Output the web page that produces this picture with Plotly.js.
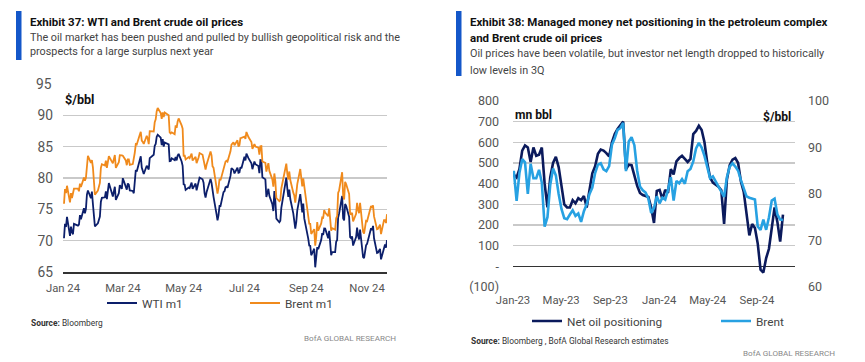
<!DOCTYPE html>
<html><head><meta charset="utf-8">
<script src="https://cdn.plot.ly/plotly-3.0.1.min.js"></script>
<style>html,body{margin:0;padding:0;background:#fff;overflow:hidden}#chart{width:865px;height:362px}</style>
</head><body><div id="chart"></div>
<script>
// ---------- Exhibit 37: daily front-month prices, 2024 ----------
const dayLabels = [
'01-02','01-03','01-04','01-05','01-08','01-09','01-10','01-11','01-12','01-16','01-17','01-18','01-19','01-22','01-23','01-24','01-25','01-26','01-29','01-30','01-31',
'02-01','02-02','02-05','02-06','02-07','02-08','02-09','02-12','02-13','02-14','02-15','02-16','02-20','02-21','02-22','02-23','02-26','02-27','02-28','02-29',
'03-01','03-04','03-05','03-06','03-07','03-08','03-11','03-12','03-13','03-14','03-15','03-18','03-19','03-20','03-21','03-22','03-25','03-26','03-27','03-28',
'04-01','04-02','04-03','04-04','04-05','04-08','04-09','04-10','04-11','04-12','04-15','04-16','04-17','04-18','04-19','04-22','04-23','04-24','04-25','04-26','04-29','04-30',
'05-01','05-02','05-03','05-06','05-07','05-08','05-09','05-10','05-13','05-14','05-15','05-16','05-17','05-20','05-21','05-22','05-23','05-24','05-28','05-29','05-30','05-31',
'06-03','06-04','06-05','06-06','06-07','06-10','06-11','06-12','06-13','06-14','06-17','06-18','06-20','06-21','06-24','06-25','06-26','06-27','06-28',
'07-01','07-02','07-03','07-05','07-08','07-09','07-10','07-11','07-12','07-15','07-16','07-17','07-18','07-19','07-22','07-23','07-24','07-25','07-26','07-29','07-30','07-31',
'08-01','08-02','08-05','08-06','08-07','08-08','08-09','08-12','08-13','08-14','08-15','08-16','08-19','08-20','08-21','08-22','08-23','08-26','08-27','08-28','08-29','08-30',
'09-03','09-04','09-05','09-06','09-09','09-10','09-11','09-12','09-13','09-16','09-17','09-18','09-19','09-20','09-23','09-24','09-25','09-26','09-27','09-30',
'10-01','10-02','10-03','10-04','10-07','10-08','10-09','10-10','10-11','10-14','10-15','10-16','10-17','10-18','10-21','10-22','10-23','10-24','10-25','10-28','10-29','10-30','10-31',
'11-01','11-04','11-05','11-06','11-07','11-08','11-11','11-12','11-13','11-14','11-15','11-18','11-19','11-20','11-21'];
const wtiM1 = [
70.38,72.70,72.19,73.81,70.77,72.24,71.37,71.02,72.68,72.40,72.56,74.08,73.41,75.19,74.37,75.09,77.36,78.01,76.78,77.82,75.85,
73.82,72.28,72.78,73.31,73.86,76.22,76.84,76.92,77.87,76.64,78.03,79.19,77.04,77.91,78.61,76.49,77.58,78.87,78.54,78.26,
79.97,78.74,78.15,79.13,78.93,78.01,77.93,77.56,79.72,81.26,81.04,82.72,83.47,81.68,81.07,80.63,81.95,81.62,81.35,83.17,
83.71,85.15,85.43,86.59,86.91,86.43,85.23,86.21,85.02,85.66,85.41,85.36,82.69,82.73,83.14,82.85,83.36,82.81,83.57,83.85,82.63,81.93,
79.00,78.95,78.11,78.48,78.38,78.99,79.26,78.26,79.12,78.02,78.63,79.23,80.06,79.80,79.26,77.57,76.87,77.72,79.83,79.23,77.91,76.99,
74.22,73.25,74.07,75.55,75.53,77.74,77.90,78.50,78.62,78.45,80.33,81.57,81.29,80.73,81.63,80.83,80.90,81.74,81.54,
83.38,82.81,83.88,83.16,82.33,81.41,82.10,82.62,82.21,81.91,80.76,82.85,82.82,80.13,79.78,76.96,77.59,78.28,77.16,75.81,74.73,77.91,
76.31,73.52,72.94,73.20,75.23,76.19,76.84,80.06,78.35,76.98,78.16,76.65,74.37,73.17,71.93,73.01,74.83,77.42,75.53,74.52,75.91,73.55,
70.34,69.20,69.15,67.67,68.71,65.75,67.31,68.97,68.65,70.09,71.19,70.91,71.95,71.92,70.37,71.56,69.69,67.67,68.18,68.17,
69.83,70.10,73.71,74.38,77.14,73.57,73.24,75.85,75.56,73.83,70.58,70.39,70.67,69.22,70.56,72.09,70.77,70.19,71.78,67.38,67.21,68.61,69.26,
69.49,71.47,71.99,71.69,72.36,70.38,68.04,68.12,68.43,68.70,67.02,69.16,69.39,68.87,70.10];
const brentM1 = [
75.89,78.25,77.59,78.76,76.12,77.59,76.80,77.41,78.29,78.29,77.88,79.10,78.56,80.06,79.55,80.04,82.43,83.55,82.40,82.87,81.71,
78.70,77.33,78.00,78.59,79.21,81.63,82.19,82.00,82.77,81.60,82.86,83.47,82.34,83.03,83.67,81.62,82.53,83.65,83.68,83.62,
83.55,82.80,82.04,82.96,82.96,82.08,82.21,82.92,84.03,85.42,85.34,86.89,87.38,85.95,85.78,85.43,86.75,86.25,85.41,87.48,
87.42,88.92,89.35,90.65,91.17,90.38,89.42,90.48,89.74,90.45,90.10,90.02,87.29,87.11,87.29,87.00,88.42,88.02,89.01,89.50,88.40,87.86,
83.44,83.67,82.96,83.33,83.16,83.58,83.88,82.79,83.36,82.38,82.75,83.27,83.98,83.71,82.88,81.90,81.36,82.12,84.22,83.60,81.86,81.62,
78.36,77.52,78.41,79.87,79.62,81.63,81.92,82.60,82.75,82.62,84.25,85.33,85.71,85.24,86.01,85.01,85.25,86.39,86.41,
86.60,86.24,87.34,86.54,85.75,84.66,85.08,85.40,85.03,84.85,83.73,85.08,85.11,82.63,82.40,81.01,81.71,82.37,81.13,79.78,78.63,80.72,
79.52,76.81,76.30,76.48,78.33,79.16,79.66,82.30,80.69,79.76,81.04,79.68,77.66,77.20,76.05,77.22,79.02,81.43,79.55,78.65,79.94,78.80,
73.75,72.70,72.69,71.06,71.84,69.19,70.61,72.97,71.61,72.75,73.70,73.65,74.88,74.49,73.90,75.17,73.46,71.60,71.98,71.77,
73.56,73.90,77.62,78.05,80.93,77.18,76.58,79.40,79.04,77.46,74.25,74.22,74.45,73.06,74.29,76.04,74.96,74.38,76.05,71.42,71.12,72.55,73.16,
73.10,75.08,75.53,75.23,75.63,73.87,71.83,71.89,72.28,72.56,71.04,73.30,73.31,72.81,74.23];
const leftTickVals = ['2024-01-01','2024-03-01','2024-05-01','2024-07-01','2024-09-01','2024-11-01'];
const leftTickText = ['Jan 24','Mar 24','May 24','Jul 24','Sep 24','Nov 24'];
const priceTicks = [65, 70, 75, 80, 85, 90];
const priceTop = 95;

// ---------- Exhibit 38: weekly (Tuesday) data from 2023-01-03 ----------
const weeklyStart = '2023-01-03';
const netPositioning = [
444,430,470,560,585,575,505,575,535,540,
575,400,285,430,500,530,480,390,300,285,
285,320,305,330,320,340,285,370,450,484,
545,565,560,548,532,600,640,665,680,700,
470,492,490,440,390,355,345,340,335,285,
210,365,370,325,370,355,470,445,508,524,
535,520,505,520,640,655,680,660,600,500,
430,405,393,385,368,205,420,490,516,524,
500,410,360,260,150,205,185,110,-16,-30,
40,85,177,285,215,120,250];
const brentWeekly = [
85.0,78.5,84.5,87.5,86.8,80.0,86.5,83.4,83.4,85.2,
82.4,73.0,75.0,82.0,85.5,84.0,80.0,76.8,74.8,74.6,
75.6,76.5,75.3,75.8,74.0,76.3,77.8,80.0,81.4,84.5,
86.3,86.6,85.3,84.9,86.0,90.6,92.0,93.8,94.2,95.3,
84.9,91.3,92.2,90.5,85.0,81.6,80.8,80.3,79.0,75.9,
77.0,79.5,78.0,79.2,78.8,80.9,83.6,78.6,82.8,82.3,
83.2,82.2,84.9,85.4,87.0,89.8,91.0,90.0,88.2,85.5,
83.4,83.8,82.6,81.4,80.5,79.4,83.6,85.9,86.6,85.9,
85.0,83.0,81.3,79.5,79.2,79.0,78.8,73.0,72.3,74.5,
72.3,75.0,78.6,79.0,75.6,74.5,74.4];
const leftAxisVals = [-100,0,100,200,300,400,500,600,700,800];
const leftAxisText = ['(100)','-','100','200','300','400','500','600','700','800'];
const rightAxisVals = [60,70,80,90,100];

// ---------- helpers ----------
const FAM = 'Roboto';
const F = 'Roboto, "Liberation Sans", sans-serif';
const cv = document.createElement('canvas').getContext('2d');
function tw(text, weight, size) { cv.font = (weight || 'normal') + ' ' + size + 'px ' + FAM; return cv.measureText(text).width; }
function fit(segs, target) {
  let w = 0; segs.forEach(s => { w += tw(s[0], s[1], 100); });
  return Math.round(1000 * target / w) / 10;
}

const d37 = dayLabels.map(s => '2024-' + s);
const weekDates = netPositioning.map((_, i) => {
  const d = new Date(weeklyStart + 'T00:00:00Z'); d.setUTCDate(d.getUTCDate() + 7 * i);
  return d.toISOString().slice(0, 10);
});

const W = 865, H = 362;
const px = x => x / W, py = y => 1 - y / H;
const NAVY = '#0c1f6b', ORANGE = '#f08a1c', NAVY2 = '#0b1a5c', LBLUE = '#27a1e2';
const GRID = '#c9c9c9', TXT = '#555555';

const sTitle = Math.min(fit([['Exhibit 37: WTI and Brent crude oil prices', 'bold']], 214),
                        fit([['Exhibit 38: Managed money net positioning in the petroleum complex', 'bold']], 362));
const sSub = Math.min(fit([['The oil market has been pushed and pulled by bullish geopolitical risk and the', 'normal']], 371),
                      fit([['Oil prices have been volatile, but investor net length dropped to historically', 'normal']], 358));
const sSrc = fit([['Source:', 'bold'], [' Bloomberg , BofA Global Research estimates', 'normal']], 197);
const sBofA = fit([['BofA GLOBAL RESEARCH', 'normal']], 92);
const sUnit = fit([['mn bbl', 'bold']], 37);
const sLeg = fit([['Net oil positioning', 'normal']], 95);
const sXt = fit([['May-23', 'normal']], 37);
const sYt = fit([['800', 'normal']], 21);
const sYl = fit([['90', 'normal']], 15.5);

const traces = [
  {x: d37, y: wtiM1, name: 'WTI m1', type: 'scatter', mode: 'lines', xaxis: 'x', yaxis: 'y',
   line: {color: NAVY, width: 1.8}, legend: 'legend'},
  {x: d37, y: brentM1, name: 'Brent m1', type: 'scatter', mode: 'lines', xaxis: 'x', yaxis: 'y',
   line: {color: ORANGE, width: 1.8}, legend: 'legend2'},
  {x: weekDates, y: netPositioning, name: 'Net oil positioning', type: 'scatter', mode: 'lines', xaxis: 'x2', yaxis: 'y2',
   line: {color: NAVY2, width: 2.6}, legend: 'legend3'},
  {x: weekDates, y: brentWeekly, name: 'Brent', type: 'scatter', mode: 'lines', xaxis: 'x2', yaxis: 'y3',
   line: {color: LBLUE, width: 2.6}, legend: 'legend4'}
];

function ann(text, x, y, size, opts) {
  return Object.assign({text, x: px(x), y: py(y), xref: 'paper', yref: 'paper', showarrow: false,
    xanchor: 'left', yanchor: 'middle', font: {family: F, size: size, color: '#333'}}, opts || {});
}
function leg(x, y) {
  return {orientation: 'h', x: px(x), y: py(y), xanchor: 'left', yanchor: 'middle', itemwidth: 30,
    font: {size: sLeg, color: '#444', family: F}, bgcolor: 'rgba(0,0,0,0)', borderwidth: 0};
}

const layout = {
  width: W, height: H, margin: {l: 0, r: 0, t: 0, b: 0, autoexpand: false},
  paper_bgcolor: '#fff', plot_bgcolor: '#fff', font: {family: F, color: TXT},
  xaxis: {domain: [px(63), px(387)], anchor: 'y', type: 'date', range: ['2024-01-01', '2024-11-21'],
    tickmode: 'array', tickvals: leftTickVals, ticktext: leftTickText, showgrid: false,
    showline: true, linecolor: '#333', linewidth: 1.6, ticks: '', tickfont: {size: sXt, color: TXT}, ticklabelstandoff: 5},
  yaxis: {domain: [py(272), py(84)], anchor: 'x', range: [65, priceTop], tickmode: 'array',
    tickvals: priceTicks, showgrid: true, gridcolor: GRID, gridwidth: 1.3, zeroline: false,
    ticks: '', tickfont: {size: sYl, color: TXT}, ticklabelstandoff: 9},
  xaxis2: {domain: [px(513), px(795)], anchor: 'y2', type: 'date', range: ['2023-01-01', '2024-12-05'],
    tick0: '2023-01-01', dtick: 'M4', tickformat: '%b-%y', showgrid: false, showline: false, ticks: '',
    tickfont: {size: sXt, color: TXT}, ticklabelstandoff: 5, tickangle: 0},
  yaxis2: {domain: [py(287), py(101)], anchor: 'x2', range: [-100, 800], tickmode: 'array',
    tickvals: leftAxisVals, ticktext: leftAxisText, showgrid: true, gridcolor: GRID, gridwidth: 1.3,
    zeroline: true, zerolinecolor: '#333', zerolinewidth: 1.6, ticks: '', tickfont: {size: sYt, color: TXT}, ticklabelstandoff: 13},
  yaxis3: {domain: [py(287), py(101)], anchor: 'x2', overlaying: 'y2', side: 'right', range: [60, 100],
    tickmode: 'array', tickvals: rightAxisVals, showgrid: false, zeroline: false, ticks: '',
    tickfont: {size: sYt, color: TXT}, ticklabelstandoff: 12},
  showlegend: true,
  legend: leg(102, 303), legend2: leg(245, 303), legend3: leg(527, 321), legend4: leg(716, 321),
  shapes: [
    {type: 'rect', xref: 'paper', yref: 'paper', x0: px(16), x1: px(21.5), y0: py(60), y1: py(11), fillcolor: '#1457c9', line: {width: 0}},
    {type: 'rect', xref: 'paper', yref: 'paper', x0: px(456), x1: px(461.5), y0: py(76), y1: py(11), fillcolor: '#1457c9', line: {width: 0}}
  ],
  annotations: [
    ann('<b>Exhibit 37: WTI and Brent crude oil prices</b>', 28, 22, sTitle, {font: {family: F, size: sTitle, color: '#111'}}),
    ann('The oil market has been pushed and pulled by bullish geopolitical risk and the', 28, 37, sSub, {font: {family: F, size: sSub, color: '#444'}}),
    ann('prospects for a large surplus next year', 28, 52, sSub, {font: {family: F, size: sSub, color: '#444'}}),
    // top price label (no gridline drawn at this level in the reference)
    {text: String(priceTop), x: 0, y: priceTop, xref: 'x domain', yref: 'y', showarrow: false, xanchor: 'right',
     yanchor: 'middle', xshift: -9, font: {family: F, size: sYl, color: TXT}},
    ann('<b>$/bbl</b>', 63, 100, sUnit, {font: {family: F, size: sUnit + 0.5, color: '#111'}}),
    ann('<b>Source:</b> Bloomberg', 29, 323, sSrc, {font: {family: F, size: sSrc, color: '#333'}}),
    ann('BofA GLOBAL RESEARCH', 398, 338, sBofA, {xanchor: 'right', font: {family: F, size: sBofA, color: '#888'}}),

    ann('<b>Exhibit 38: Managed money net positioning in the petroleum complex</b>', 468, 22, sTitle, {font: {family: F, size: sTitle, color: '#111'}}),
    ann('<b>and Brent crude oil prices</b>', 468, 38, sTitle, {font: {family: F, size: sTitle, color: '#111'}}),
    ann('Oil prices have been volatile, but investor net length dropped to historically', 468, 54, sSub, {font: {family: F, size: sSub, color: '#444'}}),
    ann('low levels in 3Q', 468, 70, sSub, {font: {family: F, size: sSub, color: '#444'}}),
    ann('<b>mn bbl</b>', 513, 115, sUnit, {font: {family: F, size: sUnit, color: '#111'}}),
    ann('<b>$/bbl</b>', 793, 117, sUnit, {xanchor: 'right', font: {family: F, size: sUnit, color: '#111'}}),
    ann('<b>Source:</b> Bloomberg , BofA Global Research estimates', 469, 341, sSrc, {font: {family: F, size: sSrc, color: '#333'}}),
    ann('BofA GLOBAL RESEARCH', 837, 353, sBofA, {xanchor: 'right', font: {family: F, size: sBofA, color: '#888'}})
  ]
};

Plotly.newPlot('chart', traces, layout, {staticPlot: true, displayModeBar: false});
</script></body></html>
